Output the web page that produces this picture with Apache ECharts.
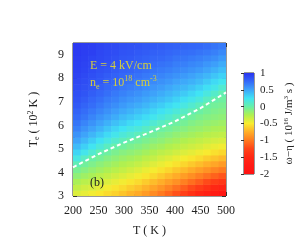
<!DOCTYPE html>
<html><head><meta charset="utf-8">
<script src="https://cdn.jsdelivr.net/npm/echarts@6/dist/echarts.min.js"></script>
<style>html,body{margin:0;padding:0;background:#fff}#c{width:300px;height:252px}</style>
</head><body><div id="c"></div>
<script>
// Cell centres of the map (T in K, Te in 10^2 K)
const T_centers = [207.5,222.5,237.5,252.5,267.5,282.5,297.5,312.5,327.5,342.5,357.5,372.5,387.5,402.5,417.5,432.5,447.5,462.5,477.5,492.5];
const Te_centers = [3.125,3.375,3.625,3.875,4.125,4.375,4.625,4.875,5.125,5.375,5.625,5.875,6.125,6.375,6.625,6.875,7.125,7.375,7.625,7.875,8.125,8.375,8.625,8.875,9.125,9.375];
const T_step = 15, Te_step = 0.25;
// omega - eta (10^16 J/m^3 s): one row per Te (ascending), one column per T
const omegaEta = [
  [-0.40,-0.44,-0.48,-0.52,-0.57,-0.61,-0.66,-0.72,-0.77,-0.84,-0.92,-1.00,-1.09,-1.19,-1.30,-1.42,-1.53,-1.64,-1.74,-1.84],
  [-0.31,-0.36,-0.39,-0.43,-0.48,-0.53,-0.57,-0.62,-0.67,-0.73,-0.80,-0.87,-0.95,-1.04,-1.13,-1.22,-1.32,-1.42,-1.51,-1.59],
  [-0.23,-0.28,-0.31,-0.35,-0.40,-0.44,-0.48,-0.53,-0.57,-0.63,-0.69,-0.75,-0.82,-0.89,-0.97,-1.05,-1.13,-1.22,-1.30,-1.37],
  [-0.14,-0.19,-0.23,-0.28,-0.32,-0.36,-0.40,-0.44,-0.48,-0.53,-0.58,-0.64,-0.70,-0.76,-0.83,-0.90,-0.97,-1.04,-1.11,-1.17],
  [-0.06,-0.11,-0.16,-0.20,-0.24,-0.28,-0.32,-0.36,-0.40,-0.45,-0.49,-0.54,-0.59,-0.65,-0.70,-0.76,-0.82,-0.88,-0.94,-0.99],
  [0.05,-0.03,-0.08,-0.13,-0.17,-0.21,-0.25,-0.28,-0.32,-0.36,-0.41,-0.45,-0.49,-0.54,-0.59,-0.64,-0.69,-0.74,-0.79,-0.84],
  [0.19,0.09,-0.01,-0.05,-0.10,-0.14,-0.18,-0.21,-0.24,-0.29,-0.32,-0.37,-0.41,-0.45,-0.49,-0.53,-0.57,-0.62,-0.66,-0.70],
  [0.31,0.22,0.13,0.03,-0.02,-0.07,-0.11,-0.14,-0.17,-0.21,-0.25,-0.29,-0.32,-0.36,-0.40,-0.43,-0.47,-0.51,-0.55,-0.58],
  [0.41,0.33,0.24,0.16,0.08,0.01,-0.03,-0.07,-0.10,-0.14,-0.18,-0.21,-0.25,-0.28,-0.32,-0.35,-0.38,-0.42,-0.45,-0.48],
  [0.50,0.42,0.34,0.26,0.19,0.12,0.06,0.00,-0.03,-0.07,-0.11,-0.14,-0.18,-0.21,-0.25,-0.28,-0.31,-0.34,-0.37,-0.39],
  [0.57,0.50,0.43,0.36,0.29,0.22,0.16,0.11,0.06,0.00,-0.04,-0.08,-0.11,-0.15,-0.18,-0.21,-0.24,-0.27,-0.29,-0.31],
  [0.64,0.57,0.51,0.44,0.37,0.31,0.25,0.20,0.16,0.10,0.04,-0.01,-0.04,-0.08,-0.11,-0.15,-0.17,-0.20,-0.23,-0.24],
  [0.69,0.63,0.57,0.51,0.45,0.39,0.34,0.29,0.25,0.20,0.14,0.09,0.03,-0.02,-0.05,-0.09,-0.12,-0.15,-0.17,-0.19],
  [0.74,0.69,0.63,0.57,0.52,0.47,0.41,0.37,0.33,0.28,0.23,0.18,0.13,0.07,0.01,-0.03,-0.07,-0.10,-0.12,-0.14],
  [0.78,0.73,0.68,0.63,0.58,0.53,0.48,0.44,0.40,0.36,0.31,0.26,0.21,0.16,0.10,0.04,-0.01,-0.05,-0.08,-0.10],
  [0.82,0.77,0.73,0.68,0.63,0.59,0.54,0.50,0.47,0.43,0.38,0.34,0.29,0.24,0.19,0.13,0.07,-0.01,-0.04,-0.06],
  [0.85,0.81,0.76,0.72,0.67,0.64,0.59,0.56,0.53,0.49,0.45,0.41,0.37,0.32,0.27,0.22,0.17,0.09,0.01,-0.02],
  [0.87,0.84,0.80,0.76,0.72,0.68,0.64,0.61,0.58,0.54,0.51,0.47,0.43,0.39,0.35,0.30,0.25,0.18,0.11,0.03],
  [0.89,0.86,0.83,0.79,0.75,0.72,0.68,0.66,0.63,0.59,0.56,0.53,0.49,0.45,0.42,0.38,0.33,0.27,0.21,0.13],
  [0.91,0.88,0.85,0.82,0.78,0.75,0.72,0.70,0.67,0.64,0.61,0.58,0.55,0.51,0.48,0.45,0.41,0.35,0.29,0.23],
  [0.93,0.90,0.87,0.84,0.81,0.78,0.75,0.73,0.71,0.68,0.65,0.63,0.60,0.57,0.54,0.51,0.47,0.43,0.37,0.32],
  [0.94,0.92,0.89,0.86,0.84,0.81,0.78,0.77,0.74,0.72,0.69,0.67,0.65,0.62,0.60,0.57,0.54,0.50,0.45,0.40],
  [0.95,0.93,0.91,0.88,0.86,0.84,0.81,0.79,0.77,0.75,0.73,0.71,0.69,0.66,0.65,0.62,0.60,0.56,0.52,0.47],
  [0.96,0.94,0.92,0.90,0.88,0.86,0.83,0.82,0.80,0.78,0.76,0.75,0.73,0.70,0.69,0.67,0.65,0.62,0.59,0.54],
  [0.97,0.95,0.94,0.91,0.89,0.88,0.85,0.84,0.82,0.81,0.79,0.78,0.76,0.74,0.73,0.72,0.70,0.68,0.65,0.61],
  [0.98,0.96,0.95,0.93,0.91,0.90,0.87,0.86,0.85,0.83,0.82,0.81,0.79,0.78,0.77,0.76,0.75,0.73,0.70,0.67]
];
// zero contour (dashed white line)
const contourT  = [200,250,300,350,400,450,500];
const contourTe = [4.22,4.78,5.27,5.70,6.17,6.73,7.40];
// colour scale
const cbarMin = -2, cbarMax = 1;
const paletteColors = ['#ff1212','#ff1a14','#ff2814','#ff4418','#ff7a20','#ffae28','#f8ec30','#b0f050','#68f0a8','#40e4f4','#3ea4fa','#3468f8','#2a34f0'];

const FONT = '"Liberation Serif", "DejaVu Serif", serif';
const mapData = [];
Te_centers.forEach((te, i) => T_centers.forEach((t, j) => mapData.push([t, te, omegaEta[i][j]])));

const chart = echarts.init(document.getElementById('c'), null, {renderer: 'canvas'});
const gradStops = paletteColors.map((c, i) => ({offset: i / (paletteColors.length - 1), color: c}));

const axisCommon = {
  axisLine: {show: false},
  splitLine: {show: false},
  axisTick: {show: true, inside: true, length: 4, lineStyle: {color: '#333', width: 1}},
  minorTick: {show: true, length: 2, lineStyle: {color: '#333', width: 1}},
  axisLabel: {fontFamily: FONT, fontSize: 12, color: '#222'}
};

chart.setOption({
  animation: false,
  backgroundColor: '#fff',
  grid: [
    {left: 73, top: 43, width: 153, height: 153, show: true, borderColor: '#333', borderWidth: 1, backgroundColor: 'transparent', containLabel: false},
    {left: 244, top: 73, width: 10, height: 101, show: true, borderColor: '#333', borderWidth: 1, backgroundColor: 'transparent'}
  ],
  xAxis: [
    Object.assign({}, axisCommon, {gridIndex: 0, type: 'value', min: 200, max: 500, interval: 50, position: 'bottom',
      minorTick: Object.assign({}, axisCommon.minorTick, {splitNumber: 5}),
      axisLabel: Object.assign({}, axisCommon.axisLabel, {margin: 9}),
      name: 'T ( K )', nameLocation: 'middle', nameGap: 29,
      nameTextStyle: {fontFamily: FONT, fontSize: 12, color: '#222'}}),
    Object.assign({}, axisCommon, {gridIndex: 0, type: 'value', min: 200, max: 500, interval: 50, position: 'top',
      minorTick: Object.assign({}, axisCommon.minorTick, {splitNumber: 5}),
      axisLabel: {show: false}}),
    {gridIndex: 1, type: 'value', min: 0, max: 1, show: false}
  ],
  yAxis: [
    Object.assign({}, axisCommon, {gridIndex: 0, type: 'value', min: 3, max: 9.5, interval: 1, position: 'left',
      minorTick: Object.assign({}, axisCommon.minorTick, {splitNumber: 2}),
      axisLabel: Object.assign({}, axisCommon.axisLabel, {margin: 9, showMaxLabel: false}),
      name: 'T{sub|e} ( 10{sup|2} K )', nameLocation: 'middle', nameGap: 32, nameRotate: 90,
      nameTextStyle: {fontFamily: FONT, fontSize: 12, color: '#222',
        rich: {sub: {fontFamily: FONT, fontSize: 8, color: '#222', verticalAlign: 'bottom', padding: [6,0,0,0]},
               sup: {fontFamily: FONT, fontSize: 8, color: '#222', verticalAlign: 'top', padding: [0,0,6,0]}}}}),
    Object.assign({}, axisCommon, {gridIndex: 0, type: 'value', min: 3, max: 9.5, interval: 1, position: 'right',
      minorTick: Object.assign({}, axisCommon.minorTick, {splitNumber: 2}),
      axisLabel: {show: false}}),
    {gridIndex: 1, type: 'value', min: cbarMin, max: cbarMax, interval: 0.5, position: 'right',
      axisLine: {show: false}, splitLine: {show: false},
      axisTick: {show: true, inside: true, length: 3, lineStyle: {color: '#333'}},
      axisLabel: {fontFamily: FONT, fontSize: 11, color: '#222', margin: 6},
      name: 'ω−η ( 10{sup|16} J/m{sup|3} s )', nameLocation: 'middle', nameGap: 29, nameRotate: 90,
      nameTextStyle: {fontFamily: FONT, fontSize: 11, color: '#222',
        rich: {sup: {fontFamily: FONT, fontSize: 7, color: '#222', verticalAlign: 'top', padding: [0,0,5,0]}}}}
  ],
  visualMap: {type: 'continuous', show: false, min: cbarMin, max: cbarMax, dimension: 2, seriesIndex: 0,
    inRange: {color: paletteColors}},
  title: [
    {text: 'E = 4 kV/cm', left: 85, top: 55, textStyle: {fontFamily: FONT, fontSize: 12, fontWeight: 'normal', color: '#d6cf3a'}},
    {text: 'n{sub|e} = 10{sup|18} cm{sup|-3}', left: 85, top: 70,
      textStyle: {fontFamily: FONT, fontSize: 12, fontWeight: 'normal', color: '#d6cf3a', lineHeight: 16,
        rich: {sub: {fontFamily: FONT, fontSize: 8, color: '#d6cf3a', verticalAlign: 'bottom', padding: [6,0,0,0]},
               sup: {fontFamily: FONT, fontSize: 8, color: '#d6cf3a', verticalAlign: 'top', padding: [0,0,6,0]}}}},
    {text: '(b)', left: 85, top: 172, textStyle: {fontFamily: FONT, fontSize: 12, fontWeight: 'normal', color: '#222'}}
  ],
  series: [
    {type: 'custom', xAxisIndex: 0, yAxisIndex: 0, data: mapData, encode: {x: 0, y: 1}, clip: true, z: 1,
      renderItem: function (params, api) {
        const x = api.value(0), y = api.value(1);
        const p0 = api.coord([x - T_step / 2, y + Te_step / 2]);
        const p1 = api.coord([x + T_step / 2, y - Te_step / 2]);
        return {type: 'rect', shape: {x: p0[0], y: p0[1], width: p1[0] - p0[0] + 0.6, height: p1[1] - p0[1] + 0.6},
          style: {fill: api.visual('color')}};
      }},
    {type: 'line', xAxisIndex: 0, yAxisIndex: 0, data: contourT.map((t, i) => [t, contourTe[i]]), smooth: false,
      symbol: 'none', z: 5, lineStyle: {color: '#fff', width: 2, type: [4, 3]}},
    {type: 'custom', xAxisIndex: 2, yAxisIndex: 2, data: [[cbarMin, cbarMax]], z: 1,
      renderItem: function (params, api) {
        const p0 = api.coord([0, api.value(1)]);
        const p1 = api.coord([1, api.value(0)]);
        return {type: 'rect', shape: {x: p0[0], y: p0[1], width: p1[0] - p0[0], height: p1[1] - p0[1]},
          style: {fill: new echarts.graphic.LinearGradient(0, 1, 0, 0, gradStops)}};
      }}
  ]
});
</script></body></html>
